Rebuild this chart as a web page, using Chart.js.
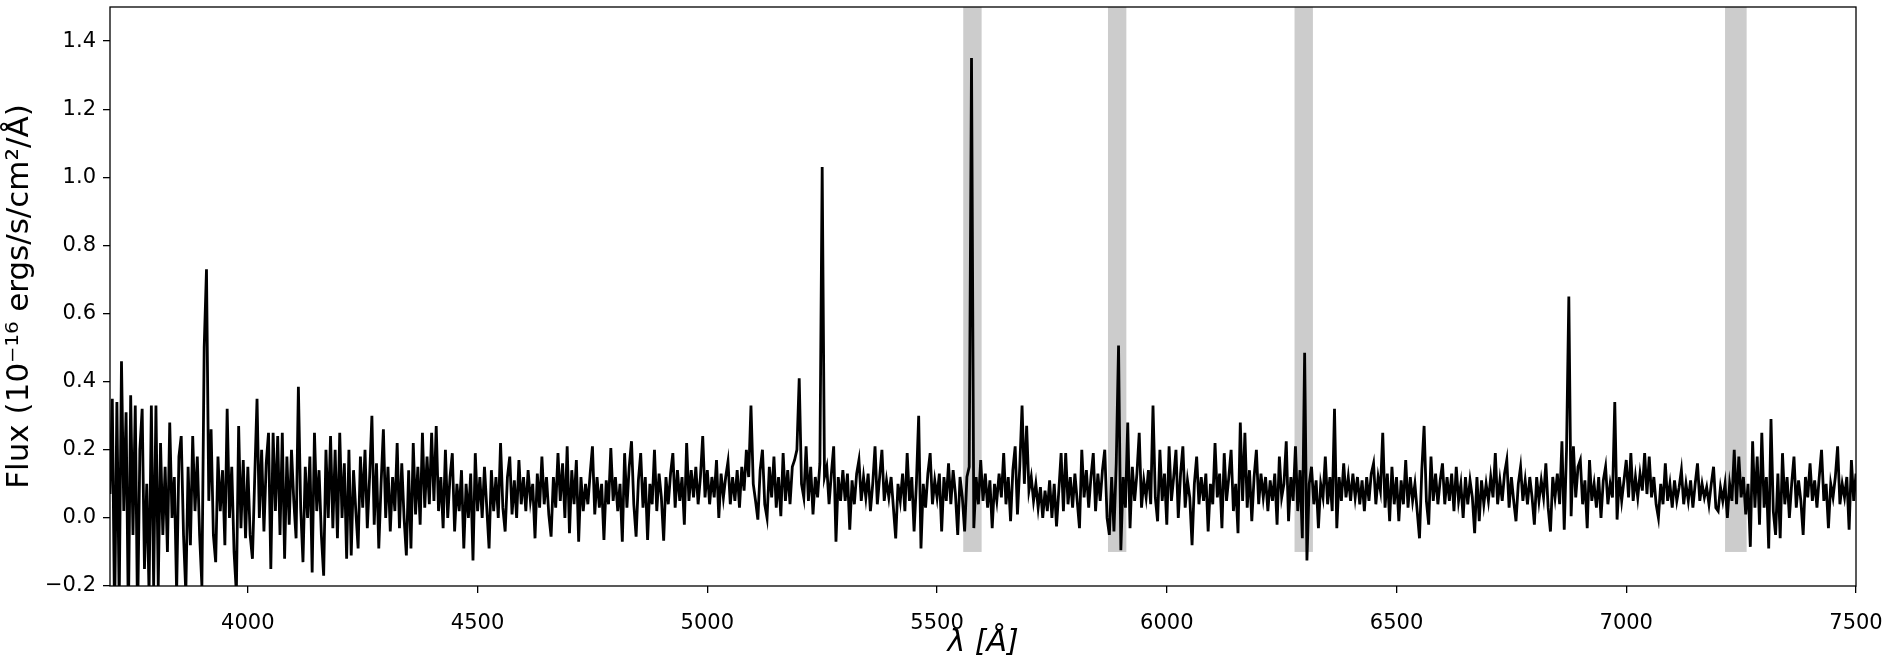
<!DOCTYPE html>
<html>
<head>
<meta charset="utf-8">
<script src="https://cdn.jsdelivr.net/npm/chart.js@4.4.0/dist/chart.umd.min.js"></script>
<style>
  html, body { margin: 0; padding: 0; background: #fff; }
</style>
</head>
<body>
<canvas id="chart" width="1882" height="662"></canvas>
<script>
// wavelength grid of the spectrum (Angstrom)
const waveStart = 3700;
const waveStep = 5;

// flux, one row per 100 A
const flux = [
  0.07, 0.35, -0.3, 0.34, -0.25, 0.46, 0.02, 0.31, -0.3, 0.36, -0.05, 0.33, -0.3, 0.2, 0.32, -0.15, 0.1, -0.22, 0.33, -0.2,            // 3700
  0.33, -0.2, 0.22, -0.05, 0.15, -0.1, 0.28, 0.0, 0.12, -0.22, 0.18, 0.24, -0.05, -0.22, 0.15, -0.08, 0.24, 0.02, 0.18, -0.05,          // 3800
  -0.2, 0.5, 0.73, 0.05, 0.26, -0.05, -0.13, 0.18, 0.02, 0.14, -0.08, 0.32, 0.0, 0.15, -0.1, -0.22, 0.27, -0.03, 0.17, -0.06,           // 3900
  0.15, -0.05, -0.12, 0.12, 0.35, 0.0, 0.2, -0.04, 0.16, 0.25, -0.15, 0.25, 0.02, 0.24, -0.05, 0.25, -0.12, 0.18, -0.02, 0.2,           // 4000
  0.05, -0.06, 0.385, 0.03, -0.13, 0.15, 0.0, 0.18, -0.16, 0.25, 0.02, 0.14, -0.05, -0.17, 0.2, 0.0, 0.24, -0.03, 0.2, -0.06,           // 4100
  0.25, 0.0, 0.16, -0.12, 0.2, -0.11, 0.14, 0.02, -0.09, 0.18, 0.03, 0.2, -0.03, 0.12, 0.3, -0.02, 0.16, -0.09, 0.1, 0.26,              // 4200
  0.0, 0.15, -0.04, 0.12, 0.02, 0.22, -0.03, 0.16, 0.0, -0.11, 0.14, -0.09, 0.22, 0.01, 0.15, -0.02, 0.25, 0.03, 0.18, 0.04,            // 4300
  0.25, 0.05, 0.27, 0.02, 0.12, -0.03, 0.2, 0.0, 0.12, 0.19, -0.04, 0.1, 0.02, 0.14, -0.09, 0.1, 0.0, 0.13, -0.125, 0.19,               // 4400
  0.02, 0.12, 0.0, 0.15, 0.03, -0.09, 0.14, 0.02, 0.12, 0.0, 0.22, 0.03, -0.04, 0.12, 0.18, 0.01, 0.11, 0.0, 0.17, 0.04,                // 4500
  0.12, 0.02, 0.14, 0.05, 0.1, -0.06, 0.13, 0.03, 0.18, 0.04, 0.12, 0.01, -0.055, 0.12, 0.03, 0.19, 0.05, 0.16, 0.0, 0.21,              // 4600
  -0.045, 0.14, 0.04, 0.17, -0.07, 0.12, 0.02, 0.1, 0.04, 0.13, 0.21, 0.01, 0.12, 0.03, 0.1, -0.065, 0.11, 0.04, 0.205, 0.05,           // 4700
  0.12, 0.02, 0.1, -0.07, 0.19, 0.03, 0.15, 0.225, 0.04, -0.055, 0.11, 0.19, 0.03, 0.12, -0.065, 0.1, 0.04, 0.2, 0.02, 0.13,            // 4800
  0.06, -0.067, 0.12, 0.04, 0.13, 0.19, 0.03, 0.14, 0.05, 0.12, -0.02, 0.22, 0.05, 0.14, 0.06, 0.15, 0.04, 0.12, 0.24, 0.06,            // 4900
  0.14, 0.04, 0.12, 0.06, 0.17, 0.0, 0.13, 0.06, 0.12, 0.165, 0.04, 0.12, 0.05, 0.14, 0.03, 0.15, 0.08, 0.2, 0.12, 0.33,                // 5000
  0.1, 0.05, -0.005, 0.14, 0.2, 0.04, 0.0, 0.15, 0.06, 0.18, 0.03, 0.12, 0.005, 0.19, 0.05, 0.14, 0.04, 0.15, 0.17, 0.2,                // 5100
  0.41, 0.1, 0.06, 0.21, 0.05, 0.15, 0.01, 0.12, 0.06, 0.16, 1.03, 0.12, 0.15, 0.04, 0.13, 0.21, -0.07, 0.12, 0.05, 0.14,               // 5200
  0.05, 0.13, -0.035, 0.11, 0.04, 0.13, 0.17, 0.05, 0.12, 0.06, 0.13, 0.02, 0.1, 0.21, 0.04, 0.12, 0.2, 0.05, 0.11, 0.06,               // 5300
  0.12, 0.03, -0.06, 0.1, 0.05, 0.13, 0.02, 0.19, 0.05, 0.12, -0.04, 0.1, 0.3, -0.09, 0.1, 0.03, 0.13, 0.19, 0.04, 0.11,                // 5400
  0.06, 0.13, -0.04, 0.12, 0.05, 0.16, 0.04, 0.14, 0.07, -0.05, 0.12, 0.06, -0.04, 0.12, 0.15, 1.35, -0.03, 0.12, 0.04, 0.17,           // 5500
  0.05, 0.13, 0.03, 0.11, -0.03, 0.1, 0.05, 0.13, 0.06, 0.19, 0.04, 0.12, -0.01, 0.14, 0.21, 0.01, 0.15, 0.33, 0.1, 0.27,               // 5600
  0.08, 0.12, 0.05, 0.1, 0.03, 0.09, 0.0, 0.08, 0.02, 0.11, 0.0, 0.1, -0.025, 0.08, 0.19, 0.02, 0.19, 0.04, 0.12, 0.03,                 // 5700
  0.13, 0.05, -0.03, 0.2, 0.06, 0.14, 0.03, 0.12, 0.19, 0.02, 0.13, 0.05, 0.14, 0.2, 0.0, -0.05, 0.12, -0.04, 0.16, 0.506,              // 5800
  -0.095, 0.12, 0.03, 0.28, -0.03, 0.15, 0.05, 0.13, 0.25, 0.03, 0.11, 0.06, 0.14, 0.04, 0.33, 0.06, -0.01, 0.2, 0.05, 0.13,            // 5900
  -0.02, 0.21, 0.05, 0.12, 0.2, 0.0, 0.13, 0.21, 0.03, 0.11, 0.06, -0.08, 0.1, 0.18, 0.04, 0.12, 0.05, 0.13, -0.04, 0.1,                // 6000
  0.04, 0.22, 0.06, 0.13, -0.03, 0.19, 0.05, 0.12, 0.2, 0.02, 0.1, -0.045, 0.28, 0.05, 0.25, 0.03, 0.14, -0.01, 0.12, 0.2,              // 6100
  0.04, 0.13, 0.06, 0.12, 0.02, 0.11, 0.05, 0.13, -0.02, 0.18, 0.06, 0.1, 0.225, -0.01, 0.12, 0.05, 0.21, 0.02, 0.14, -0.06,            // 6200
  0.485, -0.125, 0.1, 0.15, 0.04, 0.11, -0.03, 0.1, 0.06, 0.18, 0.04, 0.12, 0.02, 0.32, -0.03, 0.12, 0.05, 0.16, 0.06, 0.12,            // 6300
  0.05, 0.13, 0.06, 0.12, 0.04, 0.11, 0.02, 0.12, 0.05, 0.13, 0.16, 0.04, 0.12, 0.08, 0.25, 0.03, 0.13, -0.01, 0.15, 0.04,              // 6400
  0.12, -0.01, 0.11, 0.04, 0.17, 0.03, 0.12, 0.05, 0.1, 0.02, -0.06, 0.14, 0.27, 0.05, -0.02, 0.18, 0.05, 0.13, 0.04, 0.11,             // 6500
  0.16, 0.04, 0.12, 0.05, 0.13, 0.02, 0.15, 0.05, 0.1, 0.0, 0.12, 0.04, 0.11, 0.06, -0.045, 0.12, -0.01, 0.11, 0.04, 0.1,               // 6600
  0.05, 0.12, 0.06, 0.19, 0.04, 0.11, 0.05, 0.13, 0.17, 0.03, 0.12, 0.05, -0.01, 0.1, 0.15, 0.05, 0.11, 0.04, 0.12, 0.06,               // 6700
  -0.02, 0.12, 0.05, 0.11, 0.06, 0.16, 0.03, -0.04, 0.12, 0.06, 0.13, 0.04, 0.225, -0.035, 0.2, 0.65, 0.005, 0.21, 0.06, 0.15,          // 6800
  0.17, 0.04, 0.11, -0.03, 0.17, 0.05, 0.1, 0.03, 0.12, 0.0, 0.11, 0.15, 0.04, 0.1, 0.06, 0.34, -0.005, 0.12, 0.05, 0.11,               // 6900
  0.17, 0.06, 0.19, 0.05, 0.12, 0.06, 0.13, 0.08, 0.19, 0.07, 0.18, 0.06, 0.12, 0.04, 0.0, 0.1, 0.04, 0.16, 0.05, 0.1,                  // 7000
  0.03, 0.11, 0.05, 0.09, 0.14, 0.04, 0.1, 0.05, 0.11, 0.03, 0.1, 0.16, 0.05, 0.1, 0.06, 0.09, 0.04, 0.1, 0.15, 0.03,                   // 7100
  0.02, 0.09, 0.05, 0.1, 0.0, 0.1, 0.05, 0.2, 0.04, 0.18, 0.06, 0.12, 0.01, 0.1, -0.085, 0.225, 0.03, 0.18, -0.02, 0.25,                // 7200
  0.03, 0.12, -0.09, 0.29, 0.02, -0.05, 0.13, -0.06, 0.19, 0.04, 0.12, 0.0, 0.1, 0.18, 0.03, 0.11, 0.05, -0.05, 0.12, 0.06,             // 7300
  0.16, 0.05, 0.11, 0.03, 0.12, 0.2, 0.05, 0.1, -0.03, 0.1, 0.06, 0.12, 0.21, 0.04, 0.1, 0.06, 0.12, -0.035, 0.17, 0.05,                // 7400
  0.13                                                                                                                                  // 7500
];

// axis ticks
const xTicks = [4000, 4500, 5000, 5500, 6000, 6500, 7000, 7500];
const yTicks = [-0.2, 0.0, 0.2, 0.4, 0.6, 0.8, 1.0, 1.2, 1.4];

// masked sky-line regions (grey bands)
const bandStart = [5557, 5872, 6278, 7215];
const bandEnd   = [5597, 5912, 6318, 7262];
const bandBottom = -0.1;
const bandTop = 1.6;

const points = flux.map((f, i) => ({ x: waveStart + i * waveStep, y: f }));

const bandsAndFrame = {
  id: 'bandsAndFrame',
  beforeDatasetsDraw(chart) {
    const { ctx, chartArea, scales } = chart;
    ctx.save();
    ctx.beginPath();
    ctx.rect(chartArea.left, chartArea.top, chartArea.width, chartArea.height);
    ctx.clip();
    ctx.fillStyle = 'rgb(204, 204, 204)';
    for (let i = 0; i < bandStart.length; i++) {
      const x0 = scales.x.getPixelForValue(bandStart[i]);
      const x1 = scales.x.getPixelForValue(bandEnd[i]);
      const y0 = scales.y.getPixelForValue(bandTop);
      const y1 = scales.y.getPixelForValue(bandBottom);
      ctx.fillRect(x0, y0, x1 - x0, y1 - y0);
    }
    ctx.restore();
  },
  afterDraw(chart) {
    const { ctx, chartArea } = chart;
    ctx.save();
    ctx.strokeStyle = '#000';
    ctx.lineWidth = 1.3;
    ctx.strokeRect(chartArea.left, chartArea.top, chartArea.width, chartArea.height);
    ctx.restore();
  }
};

const tickFont = { family: 'DejaVu Sans', size: 21 };

const myChart = new Chart(document.getElementById('chart'), {
  type: 'line',
  data: {
    datasets: [{
      data: points,
      borderColor: '#000',
      borderWidth: 2.8,
      pointRadius: 0,
      tension: 0,
      fill: false,
      clip: 0
    }]
  },
  options: {
    responsive: false,
    animation: false,
    events: [],
    layout: { padding: { top: 7, right: 26, bottom: 0, left: 0 } },
    plugins: { legend: { display: false }, tooltip: { enabled: false } },
    scales: {
      x: {
        type: 'linear',
        min: 3700,
        max: 7500,
        afterBuildTicks(scale) { scale.ticks = xTicks.map(v => ({ value: v })); },
        afterFit(scale) {
          scale.height = 76;
          scale.paddingLeft = 0;
          scale.paddingRight = 0;
        },
        border: { display: false },
        grid: { drawOnChartArea: false, drawTicks: true, tickLength: 7, color: '#000', lineWidth: 1.3 },
        ticks: {
          autoSkip: false,
          maxRotation: 0,
          padding: 18,
          color: '#000',
          font: tickFont,
          callback: (v) => String(v)
        },
        title: {
          display: true,
          text: 'λ [Å]',
          color: '#000',
          font: { family: 'DejaVu Sans', size: 30, style: 'italic' },
          padding: { top: 0, bottom: 1 }
        }
      },
      y: {
        min: -0.2,
        max: 1.5,
        afterBuildTicks(scale) { scale.ticks = yTicks.map(v => ({ value: v })); },
        afterFit(scale) {
          scale.width = 110;
          scale.paddingTop = 0;
          scale.paddingBottom = 0;
        },
        border: { display: false },
        grid: { drawOnChartArea: false, drawTicks: true, tickLength: 7, color: '#000', lineWidth: 1.3 },
        ticks: {
          autoSkip: false,
          padding: 7,
          color: '#000',
          font: tickFont,
          callback: (v) => (v < -1e-9 ? '\u2212' : '') + Math.abs(v).toFixed(1)
        },
        title: {
          display: true,
          text: 'Flux (10\u207B\u00B9\u2076 ergs/s/cm\u00B2/Å)',
          color: '#000',
          font: { family: 'DejaVu Sans', size: 31 },
          padding: { top: 1, bottom: 2 }
        }
      }
    }
  },
  plugins: [bandsAndFrame]
});
</script>
</body>
</html>
